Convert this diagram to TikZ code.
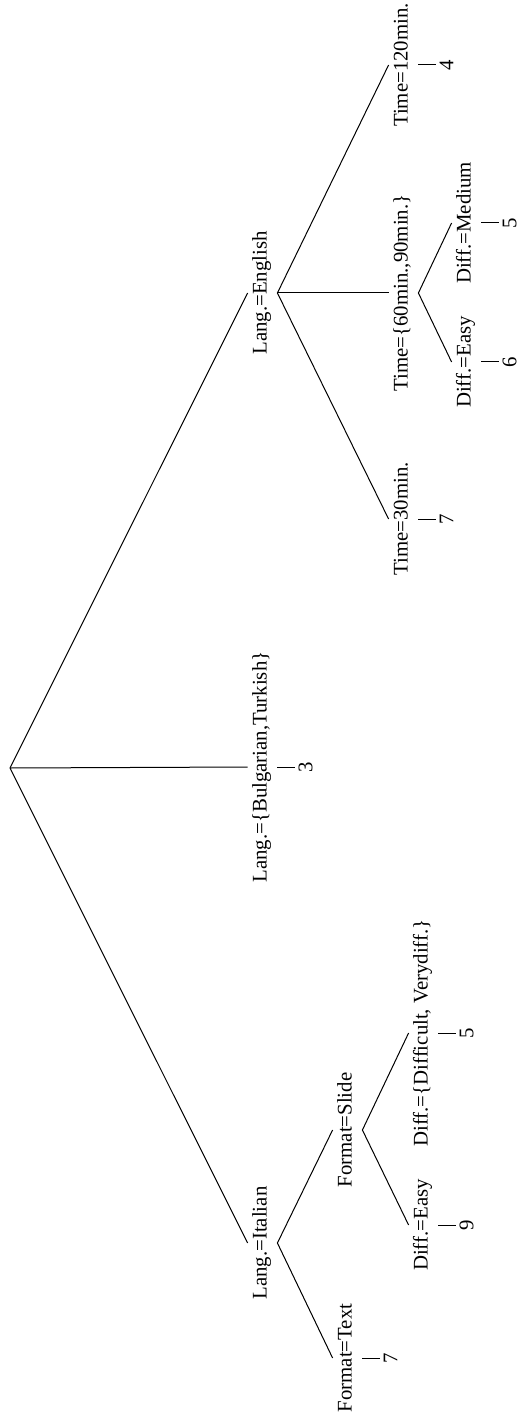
\documentclass[tikz,border=0pt]{standalone}
\usepackage{fontspec}
\setmainfont{Liberation Serif}
\begin{document}
\begin{tikzpicture}[x=0.5pt,y=-0.5pt,
  treelab/.style={rotate=90, inner sep=2pt, text height=7.25pt, text depth=3.25pt, font=\fontsize{10.4}{12}\selectfont},
  leafnum/.style={rotate=90, inner sep=1pt, text height=7.5pt, text depth=0pt, anchor=north, font=\fontsize{10.4}{12}\selectfont},
  treeedge/.style={line width=0.5pt, black}]
\useasboundingbox (0,0) rectangle (519,1422);
\coordinate (root) at (10,768);
\node[treelab] (it) at (262.5,1243) {Lang.=Italian};
\node[treelab] (bg) at (262.5,767) {Lang.=\{Bulgarian,Turkish\}};
\node[treelab] (en) at (262.5,293) {Lang.=English};
\node[treelab] (ft) at (347.5,1358) {Format=Text};
\node[treelab] (fs) at (347.5,1130) {Format=Slide};
\node[treelab] (de1) at (423.5,1225) {Diff.=Easy};
\node[treelab] (dd) at (423.5,1033) {Diff.=\{Difficult, Verydiff.\}};
\node[treelab] (t30) at (403.5,519) {Time=30min.};
\node[treelab] (t60) at (403.5,293) {Time=\{60min.,90min.\}};
\node[treelab] (t120) at (403.5,65) {Time=120min.};
\node[treelab] (de2) at (466.5,362) {Diff.=Easy};
\node[treelab] (dm) at (466.5,223) {Diff.=Medium};
\node[leafnum] (n3) at (295,767) {3};
\node[leafnum] (n7a) at (380,1358) {7};
\node[leafnum] (n9) at (456,1225) {9};
\node[leafnum] (n5a) at (456,1033) {5};
\node[leafnum] (n7b) at (436,519) {7};
\node[leafnum] (n4) at (436,65) {4};
\node[leafnum] (n6) at (499,362) {6};
\node[leafnum] (n5b) at (499,223) {5};
\draw[treeedge] (root) -- (it.north);
\draw[treeedge] (root) -- (bg.north);
\draw[treeedge] (root) -- (en.north);
\draw[treeedge] (it.south) -- (ft.north);
\draw[treeedge] (it.south) -- (fs.north);
\draw[treeedge] (fs.south) -- (de1.north);
\draw[treeedge] (fs.south) -- (dd.north);
\draw[treeedge] (en.south) -- (t30.north);
\draw[treeedge] (en.south) -- (t60.north);
\draw[treeedge] (en.south) -- (t120.north);
\draw[treeedge] (t60.south) -- (de2.north);
\draw[treeedge] (t60.south) -- (dm.north);
\draw[treeedge] (bg.south) -- (n3.north);
\draw[treeedge] (ft.south) -- (n7a.north);
\draw[treeedge] (de1.south) -- (n9.north);
\draw[treeedge] (dd.south) -- (n5a.north);
\draw[treeedge] (t30.south) -- (n7b.north);
\draw[treeedge] (t120.south) -- (n4.north);
\draw[treeedge] (de2.south) -- (n6.north);
\draw[treeedge] (dm.south) -- (n5b.north);
\end{tikzpicture}
\end{document}
